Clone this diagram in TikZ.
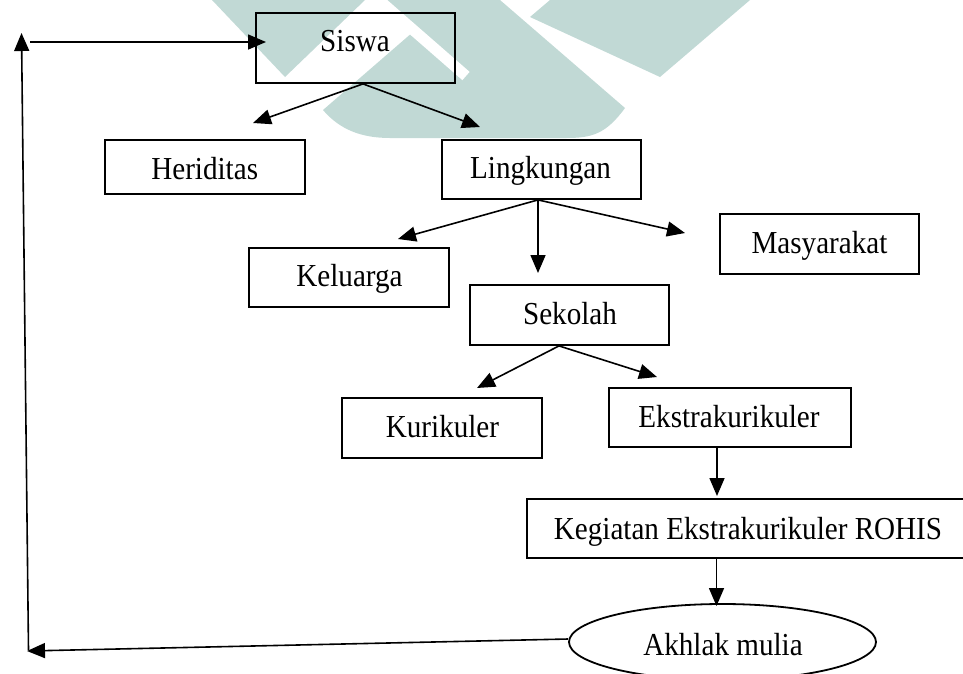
\documentclass[tikz,border=0pt]{standalone}
\usepackage{fontspec}
\setmainfont{Liberation Serif}
\usetikzlibrary{arrows.meta,shapes.geometric}
\definecolor{wm}{RGB}{193,217,213}
\newcommand{\lbl}[1]{\scalebox{0.91}[1]{#1}}
\begin{document}
\begin{tikzpicture}[x=1pt,y=-1pt,
  box/.style={draw=black, line width=1.8pt, rectangle, inner sep=0pt},
  oval/.style={draw=black, line width=1.8pt, ellipse, inner sep=0pt},
  txt/.style={anchor=base, inner sep=0pt, font=\fontsize{32}{38}\selectfont},
  arr/.style={line width=1.6pt, -{Triangle[length=18pt,width=15pt]}}]
\useasboundingbox (0,0) rectangle (963,673);
% watermark
\fill[wm] (212,0) -- (285,77) -- (365,0) -- cycle;
\fill[wm] (323,110) -- (413,32) -- (373,0) -- (500,0) -- (625,108)
  .. controls (606,134) and (592,138) .. (566,138) -- (390,138)
  .. controls (362,138) and (340,130) .. (323,110) -- cycle;
\draw[white, line width=11pt] (372,-6) -- (466,76);
\fill[wm] (550,0) -- (530,17) -- (660,77) -- (750,0) -- cycle;
% boxes
\node[box, minimum width=199.3pt, minimum height=70pt] (siswa) at (355.3,48) {};
\node[txt] (siswaT) at (355,51.7) {\lbl{Siswa}};
\node[box, minimum width=200pt, minimum height=54pt] (heri) at (205,167) {};
\node[txt] (heriT) at (204.7,179) {\lbl{Heriditas}};
\node[box, minimum width=199.3pt, minimum height=59pt] (ling) at (541.3,169.5) {};
\node[txt] (lingT) at (540.5,178) {\lbl{Lingkungan}};
\node[box, minimum width=200pt, minimum height=59pt] (kel) at (349,277.5) {};
\node[txt] (kelT) at (349.5,286) {\lbl{Keluarga}};
\node[box, minimum width=199pt, minimum height=60pt] (mas) at (819.5,244) {};
\node[txt] (masT) at (819.5,253) {\lbl{Masyarakat}};
\node[box, minimum width=199pt, minimum height=60pt] (sek) at (569.5,315) {};
\node[txt] (sekT) at (570,324) {\lbl{Sekolah}};
\node[box, minimum width=200pt, minimum height=60pt] (kur) at (442,428) {};
\node[txt] (kurT) at (442.5,437.7) {\lbl{Kurikuler}};
\node[box, minimum width=242pt, minimum height=59pt] (eks) at (730,417.5) {};
\node[txt] (eksT) at (729,427) {\lbl{Ekstrakurikuler}};
\node[box, minimum width=439pt, minimum height=59pt] (roh) at (746.5,528.5) {};
\node[txt] (rohT) at (748,539) {\lbl{Kegiatan Ekstrakurikuler ROHIS}};
\node[oval, minimum width=307pt, minimum height=76pt] (akh) at (722.5,642) {};
\node[txt] (akhT) at (723,655) {\lbl{Akhlak mulia}};
% free ends
\coordinate (sisL) at (253,123);
\coordinate (sisR) at (480,127);
\coordinate (linL) at (398,239);
\coordinate (linD) at (538,273);
\coordinate (linR) at (685,233);
\coordinate (sekL) at (477,388);
\coordinate (sekR) at (657,377);
\coordinate (eksD) at (717,496);
\coordinate (rohD) at (716.5,606);
\coordinate (botL) at (27,651);
\coordinate (botV) at (28.5,650);
\coordinate (topV) at (21.5,33);
\coordinate (topH) at (30,42);
\coordinate (sisIn) at (266,42);
% connectors
\draw[arr] ([xshift=7.7pt]siswa.south) -- (sisL);
\draw[arr] ([xshift=7.7pt]siswa.south) -- (sisR);
\draw[arr] ([xshift=-3.3pt]ling.south) -- (linL);
\draw[arr] ([xshift=-3.3pt]ling.south) -- (linD);
\draw[arr] ([xshift=-3.3pt]ling.south) -- (linR);
\draw[arr] ([xshift=-10.5pt]sek.south) -- (sekL);
\draw[arr] ([xshift=-10.5pt]sek.south) -- (sekR);
\draw[arr] ([xshift=-13pt]eks.south) -- (eksD);
\draw[arr] ([xshift=-30pt]roh.south) -- (rohD);
\draw[arr] ([yshift=3pt]akh.west) -- (botL);
\draw[arr] (botV) -- (topV);
\draw[arr] (topH) -- (sisIn);
\end{tikzpicture}
\end{document}
